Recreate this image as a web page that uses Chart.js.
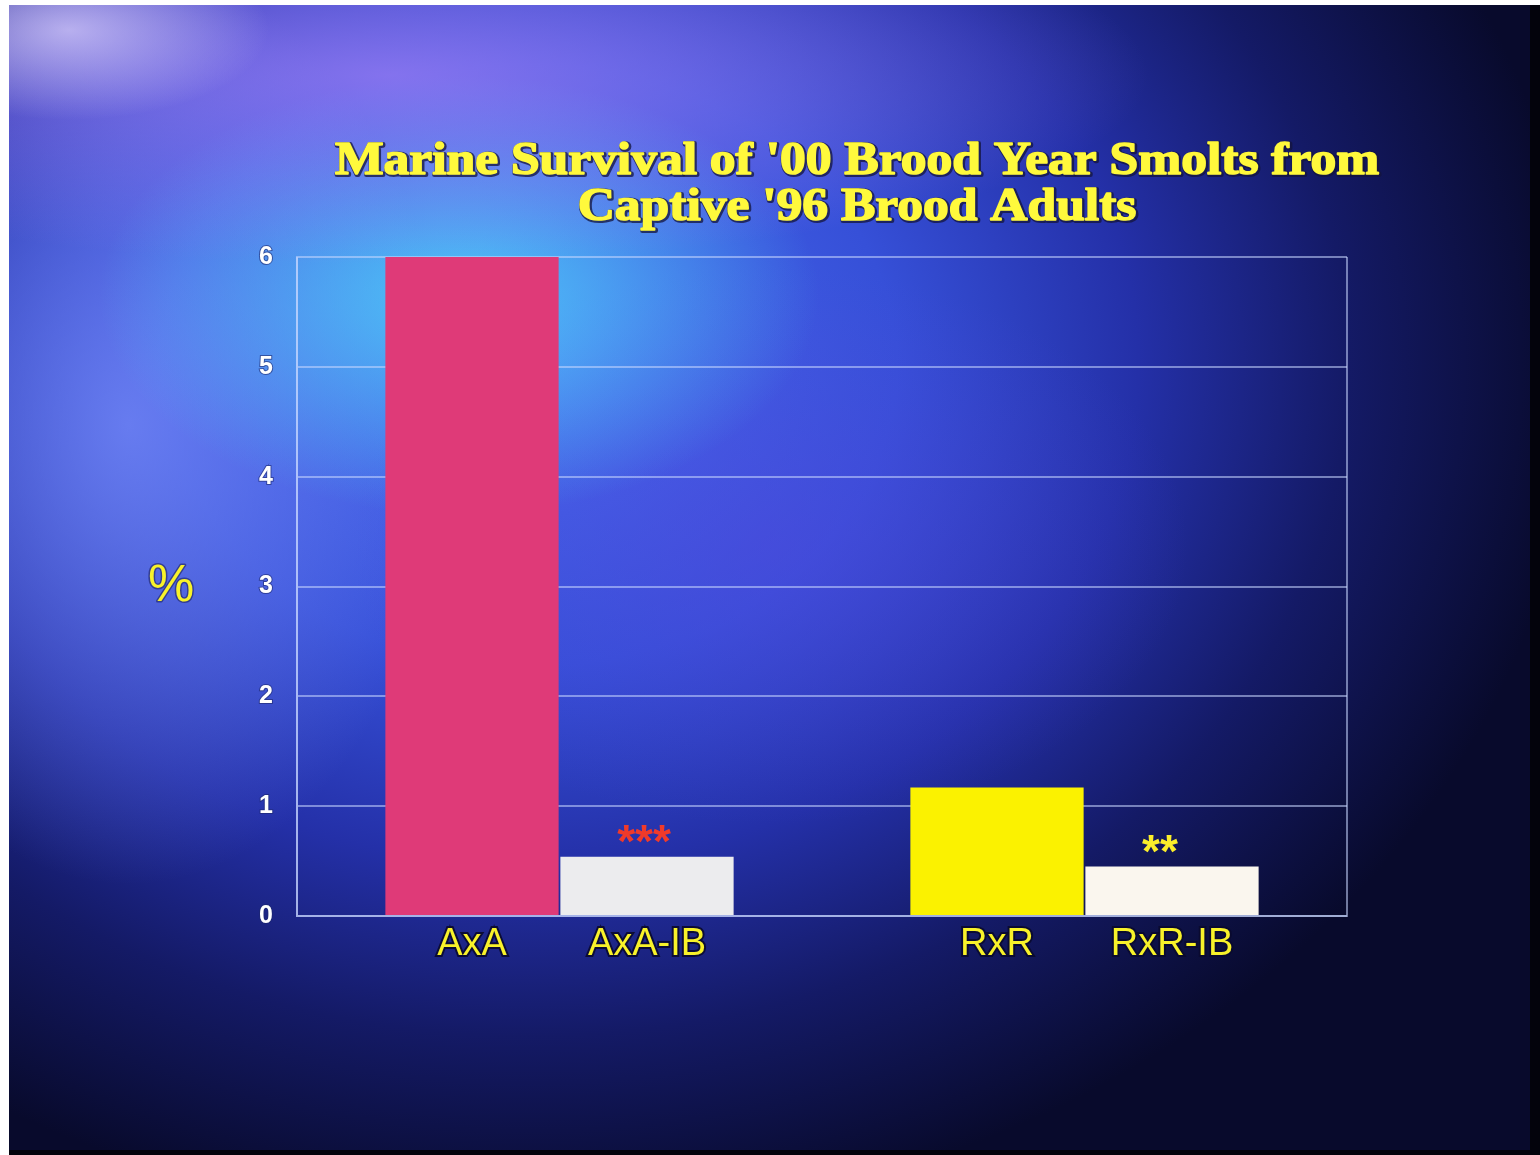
<!DOCTYPE html>
<html>
<head>
<meta charset="utf-8">
<script src="https://cdn.jsdelivr.net/npm/chart.js@4.4.1/dist/chart.umd.min.js"></script>
<style>
  html, body { margin: 0; padding: 0; background: #ffffff; }
  #frame { position: absolute; left: 9px; top: 5px; width: 1531px; height: 1150px; background: #03030c; }
  #sky {
    position: absolute; left: 9px; top: 5px; width: 1521px; height: 1145px;
    background:
      radial-gradient(ellipse 200px 90px at 60px 25px, rgba(225,215,255,0.7), rgba(225,215,255,0) 100%),
      radial-gradient(ellipse 760px 190px at 380px 70px, rgba(165,130,248,0.7), rgba(165,130,248,0) 100%),
      radial-gradient(ellipse 360px 220px at 450px 290px, rgba(80,215,250,0.85), rgba(80,215,250,0) 100%),
      radial-gradient(ellipse 320px 460px at 120px 420px, rgba(120,140,250,0.75), rgba(120,140,250,0) 100%),
      radial-gradient(ellipse 420px 280px at 760px 540px, rgba(80,70,220,0.5), rgba(80,70,220,0) 100%),
      radial-gradient(ellipse 1050px 860px at 520px 360px, #4a6cf0 0%, #3650d8 35%, #2430a8 58%, #141a66 78%, #080a2c 100%);
  }
  #chart { position: absolute; left: 0; top: 0; }
</style>
</head>
<body>
<div id="frame"></div>
<div id="sky"></div>
<canvas id="chart" width="1540" height="1155"></canvas>
<script>
// two crossing groups, separated by an empty slot
const categories = ['', 'AxA', 'AxA-IB', '', 'RxR', 'RxR-IB', ''];
const survivalPct = [null, 6.0, 0.54, null, 1.17, 0.45, null];
const barColors = ['#000', '#df3a78', '#ececee', '#000', '#fbf200', '#faf6ee', '#000'];
const significance = ['', '', '***', '', '', '**', ''];
const markColors = ['', '', '#f03a2a', '', '', '#fbee2a', ''];
const titleLines = ["Marine Survival of '00 Brood Year Smolts from", "Captive '96 Brood Adults"];
const yTitle = '%';

const gridColor = 'rgba(200,215,255,0.55)';
const labelYellow = '#f8f22a';
const sansFamily = '"Liberation Sans", Arial, sans-serif';

const slideText = {
  id: 'slideText',
  afterDraw(chart) {
    const ctx = chart.ctx;
    ctx.save();
    ctx.font = 'bold 46px "Liberation Serif", "Times New Roman", serif';
    ctx.textAlign = 'center';
    ctx.textBaseline = 'alphabetic';
    ctx.lineJoin = 'round';
    const baselines = [174, 220];
    titleLines.forEach((line, i) => {
      ctx.save();
      ctx.translate(857, baselines[i]);
      ctx.scale(1.12, 1);
      // dark rim first, then a thickening stroke in the fill colour
      ctx.strokeStyle = 'rgba(20,20,60,0.75)';
      ctx.lineWidth = 4;
      ctx.strokeText(line, 1, 1);
      ctx.strokeStyle = '#fff93c';
      ctx.lineWidth = 1.6;
      ctx.strokeText(line, 0, 0);
      ctx.fillStyle = '#fff93c';
      ctx.fillText(line, 0, 0);
      ctx.restore();
    });
    // axis title, drawn upright
    ctx.font = '52px ' + sansFamily;
    ctx.fillStyle = labelYellow;
    ctx.textBaseline = 'middle';
    ctx.strokeStyle = 'rgba(20,20,70,0.5)';
    ctx.lineWidth = 3;
    ctx.strokeText(yTitle, 171, 587);
    ctx.fillText(yTitle, 171, 587);
    ctx.restore();
  },
  afterDatasetsDraw(chart, args, opts) {
    const ctx = chart.ctx;
    const bars = chart.getDatasetMeta(0).data;
    ctx.save();
    ctx.font = 'bold 46px ' + sansFamily;
    ctx.textAlign = 'center';
    ctx.textBaseline = 'alphabetic';
    significance.forEach((mark, i) => {
      if (!mark) return;
      ctx.fillStyle = markColors[i];
      ctx.fillText(mark, bars[i].x + (opts.shift[i] || 0), bars[i].y);
    });
    ctx.restore();
  }
};

new Chart(document.getElementById('chart').getContext('2d'), {
  type: 'bar',
  data: {
    labels: categories,
    datasets: [{
      data: survivalPct,
      backgroundColor: barColors,
      borderWidth: 0,
      barPercentage: 1,
      categoryPercentage: 0.99
    }]
  },
  options: {
    responsive: false,
    animation: false,
    layout: { padding: { left: 197, right: 193, top: 257, bottom: 179 } },
    plugins: {
      legend: { display: false },
      tooltip: { enabled: false },
      slideText: { shift: { 2: -3, 5: -12 } }
    },
    scales: {
      x: {
        offset: false,
        afterFit: scale => { scale.height = 60; },
        grid: {
          offset: false,
          drawTicks: false,
          lineWidth: 2,
          color: c => (c.index === 0 || c.index === categories.length - 1) ? gridColor : 'transparent'
        },
        border: { color: gridColor, width: 2 },
        ticks: {
          padding: 6,
          color: labelYellow,
          textStrokeColor: 'rgba(10,10,45,0.9)',
          textStrokeWidth: 4,
          font: { family: sansFamily, size: 38 }
        }
      },
      y: {
        min: 0,
        max: 6,
        afterFit: scale => { scale.width = 100; },
        grid: { drawTicks: false, lineWidth: 2, color: gridColor },
        border: { color: gridColor, width: 2 },
        ticks: {
          stepSize: 1,
          padding: 24,
          color: '#ffffff',
          textStrokeColor: 'rgba(30,40,110,0.6)',
          textStrokeWidth: 2,
          font: { family: sansFamily, size: 25, weight: 'bold' }
        }
      }
    }
  },
  plugins: [slideText]
});
</script>
</body>
</html>
